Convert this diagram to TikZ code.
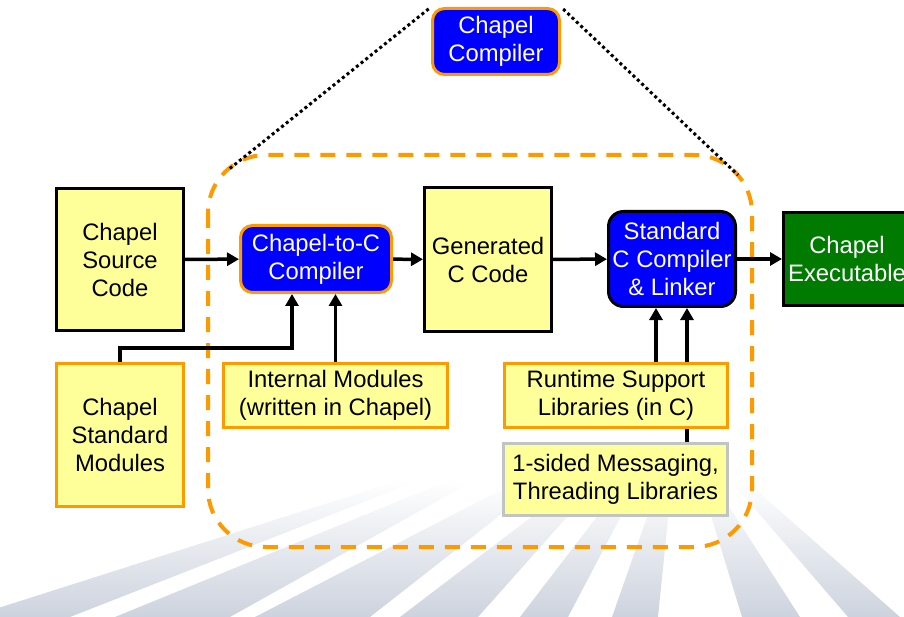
\documentclass[tikz,border=0pt]{standalone}
\usepackage{fontspec}
\setmainfont{Liberation Sans}
\usetikzlibrary{arrows.meta,calc}
\definecolor{cyel}{HTML}{FFFF99}
\definecolor{cblue}{HTML}{0000FF}
\definecolor{corange}{HTML}{FF9900}
\definecolor{cgreen}{HTML}{007A00}
\definecolor{cgrey}{HTML}{C0C4C4}
\definecolor{cstripe}{HTML}{CDD3DE}
\begin{document}
\begin{tikzpicture}[x=1pt,y=-1pt,
  txt/.style={font=\fontsize{23.8}{28}\selectfont, align=center, inner sep=0pt},
  ybox/.style={txt, fill=cyel, draw=black, line width=3pt},
  obox/.style={txt, fill=cyel, draw=corange, line width=3pt},
  gbox/.style={txt, fill=cyel, draw=cgrey, line width=3pt},
  bbox/.style={txt, fill=cblue, text=white, line width=3pt, rounded corners=12pt},
  arr/.style={line width=3.5pt, -{Triangle[length=12pt,width=13pt]}},
  conn/.style={line width=3.5pt},
  dotline/.style={line width=3pt, dash pattern=on 3pt off 3pt},
  stripe/.style={top color=white, middle color=white!70!cstripe, bottom color=cstripe},
]
\useasboundingbox (0,0) rectangle (904,617);
% background stripes
\foreach \a/\b/\c/\d in {-30/70/400/420, 115/230/450/475, 255/370/520/545, 400/478/580/600, 520/568/625/640, 612/658/660/672, 742/800/700/712, 848/900/730/745}{
  \shade[stripe] (\a,617) -- (\c,480) -- (\d,480) -- (\b,617) -- cycle;
}
% dashed region
\draw[corange, line width=4pt, dash pattern=on 15pt off 11pt, rounded corners=58pt] (208,155) rectangle (752,547);
\coordinate (dl) at (228,170);
\coordinate (dr) at (738,175);
% nodes
\node[bbox, draw=corange, minimum width=127, minimum height=66] (cc) at (496,41.5) {Chapel\\Compiler};
\node[ybox, minimum width=127, minimum height=142] (src) at (120,259.5) {Chapel\\Source\\Code};
\node[bbox, draw=corange, minimum width=151, minimum height=67] (c2c) at (316,259) {Chapel-to-C\\Compiler};
\node[ybox, minimum width=127, minimum height=144] (gen) at (488,259.5) {Generated\\C Code};
\node[bbox, draw=black, rounded corners=15pt, minimum width=127, minimum height=95] (std) at (672,259) {Standard\\C Compiler\\\& Linker};
\node[txt, fill=cgreen, text=white, draw=black, line width=3pt, minimum width=127, minimum height=93] (exe) at (847,259) {Chapel\\Executable};
\node[obox, minimum width=127, minimum height=143] (stdmod) at (120,435) {Chapel\\Standard\\Modules};
\node[obox, minimum width=224, minimum height=64] (intmod) at (335.5,395.5) {Internal Modules\\(written in Chapel)};
\node[obox, minimum width=223, minimum height=64] (rt) at (616,395.5) {Runtime Support\\Libraries (in C)};
\node[gbox, minimum width=224, minimum height=72] (msg) at (615.5,479.5) {1-sided Messaging,\\Threading Libraries};
% dotted zoom lines
\draw[dotline, shorten <=3pt] (cc.north west) -- (dl);
\draw[dotline, shorten <=3pt] (cc.north east) -- (dr);
% main flow
\draw[arr] (src) -- (c2c);
\draw[arr] (c2c) -- (gen);
\draw[arr] (gen) -- (std);
\draw[arr] (std) -- (exe);
% module inputs
\draw[arr] (stdmod.north) -- ++(0,-14) -| ([xshift=-24pt]c2c.south);
\draw[arr] (intmod.north) -- (intmod.north |- c2c.south);
% runtime inputs
\draw[arr] ([xshift=40pt]rt.north) -- ([xshift=40pt]rt.north |- std.south);
\draw[conn] ([xshift=71.5pt]msg.north) -- ([xshift=71.5pt]msg.north |- rt.south);
\draw[arr] ([xshift=71.5pt]msg.north |- rt.north) -- ([xshift=71.5pt]msg.north |- std.south);
\end{tikzpicture}
\end{document}
